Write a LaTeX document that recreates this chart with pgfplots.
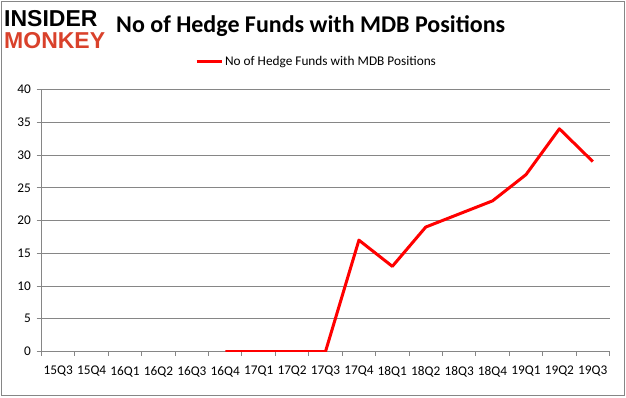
\documentclass[border=0pt]{standalone}
\usepackage{pgfplots}
\pgfplotsset{compat=1.18}
\usepackage{fontspec}
\setmainfont{Carlito}
\newfontfamily\logofont{Liberation Sans}
\definecolor{axgray}{HTML}{868686}
\definecolor{logored}{HTML}{D9412B}
\begin{document}
\begin{tikzpicture}[x=1bp,y=1bp]
\path (0,0) rectangle (626,397);
\draw[axgray, line width=1bp] (1.5,1.5) rectangle (624.5,395.5);
% logo
\node[anchor=west, inner sep=0pt, font=\logofont\bfseries\fontsize{23bp}{23bp}\selectfont] at (4,378) {INSIDER};
\node[anchor=west, inner sep=0pt, text=logored, font=\logofont\bfseries\fontsize{23bp}{23bp}\selectfont] at (4,356) {MONKEY};
% title
\node[anchor=west, inner sep=0pt, font=\bfseries\fontsize{24bp}{26bp}\selectfont] at (116,371) {No of Hedge Funds with MDB Positions};
\begin{axis}[
  at={(41.5bp,45.5bp)}, anchor=south west,
  width=568bp, height=262bp, scale only axis,
  xmin=-0.5, xmax=16.5, ymin=0, ymax=40,
  axis lines*=left,
  axis line style={axgray, line width=1bp},
  xtick={0,...,16},
  xticklabels={15Q3,15Q4,16Q1,16Q2,16Q3,16Q4,17Q1,17Q2,17Q3,17Q4,18Q1,18Q2,18Q3,18Q4,19Q1,19Q2,19Q3},
  major x tick style={draw=none},
  minor xtick={-0.5,0.5,...,16.5},
  minor x tick style={axgray, line width=1bp},
  minor tick length=4bp,
  ytick={0,5,...,40},
  major y tick style={axgray, line width=1bp},
  major tick length=5bp,
  tick align=outside,
  ymajorgrids,
  grid style={axgray, line width=1bp},
  /pgf/number format/assume math mode=true,
  tick label style={font=\fontsize{13.3bp}{15bp}\selectfont, text=black},
  yticklabel style={xshift=-2bp},
  xticklabel style={yshift=-6bp},
  legend style={at={(0.27,1.105)}, anchor=west, draw=none, fill=none, inner sep=0pt,
     font=\fontsize{13.3bp}{15bp}\selectfont, legend cell align=left},
  legend image code/.code={\draw[#1, line width=3bp] (0bp,0bp) -- (25bp,0bp);},
]
\addplot[red, line width=3bp, line join=round] coordinates {
  (5,0) (6,0) (7,0) (8,0) (9,17) (10,13) (11,19) (12,21) (13,23) (14,27) (15,34) (16,29)
};
\addlegendentry{No of Hedge Funds with MDB Positions}
\end{axis}
\end{tikzpicture}
\end{document}
